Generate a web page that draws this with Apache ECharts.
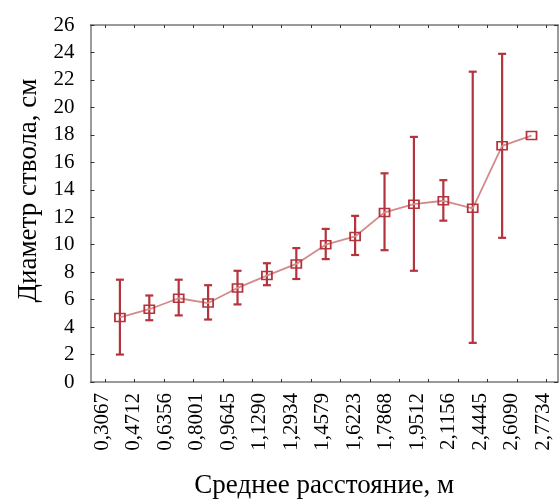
<!DOCTYPE html>
<html><head><meta charset="utf-8">
<script src="https://cdn.jsdelivr.net/npm/echarts@6/dist/echarts.min.js"></script>
<style>html,body{margin:0;padding:0;background:#fff}#c{width:559px;height:500px}</style>
</head><body><div id="c"></div>
<script>
const categories = ['0,3067','0,4712','0,6356','0,8001','0,9645','1,1290','1,2934','1,4579','1,6223','1,7868','1,9512','2,1156','2,4445','2,6090','2,7734'];
const means = [4.7, 5.3, 6.1, 5.75, 6.85, 7.75, 8.6, 10.0, 10.6, 12.35, 12.95, 13.2, 12.65, 17.2, 17.95];
const upper = [7.45, 6.3, 7.45, 7.05, 8.1, 8.65, 9.75, 11.15, 12.1, 15.2, 17.85, 14.7, 22.6, 23.9, null];
const lower = [2.0, 4.5, 4.85, 4.55, 5.65, 7.05, 7.5, 8.95, 9.25, 9.6, 8.1, 11.75, 2.85, 10.5, null];
const yTicks = [0,2,4,6,8,10,12,14,16,18,20,22,24,26];

const n = categories.length;
const tickVals = []; for (let i = 0; i <= n; i++) tickVals.push(i);
const labelVals = categories.map((c, k) => k * n / (n - 1) - 0.1);
const lineData = means.map((v, i) => [i + 0.5, v]);
const errData = means.map((v, i) => [i + 0.5, lower[i], upper[i]]).filter(d => d[1] != null);

const font = "'Liberation Serif', 'Times New Roman', serif";
const axisGray = '#7a7a7a';
const chart = echarts.init(document.getElementById('c'));
const xBase = {
  type: 'value', min: -0.5, max: 15.4,
  axisLine: {show: true, onZero: false, lineStyle: {color: axisGray, width: 1.5}},
  splitLine: {show: false},
  axisTick: {show: true, inside: true, length: 3, customValues: tickVals, lineStyle: {color: '#333'}}
};
const yBase = {
  type: 'value', min: 0, max: 26, interval: 2,
  axisLine: {show: true, onZero: false, lineStyle: {color: axisGray, width: 1.5}},
  axisTick: {show: true, inside: true, length: 4, lineStyle: {color: '#333'}},
  splitLine: {show: false}
};
chart.setOption({
  animation: false,
  grid: {left: 90.5, right: 1, top: 25, bottom: 118, containLabel: false, outerBoundsMode: 'none'},
  xAxis: [
    Object.assign({}, xBase, {
      position: 'bottom',
      name: 'Среднее расстояние, м', nameLocation: 'middle', nameGap: 90,
      nameTextStyle: {fontFamily: font, fontSize: 27, color: '#000'},
      axisLabel: {show: true, rotate: 90, margin: 11, customValues: labelVals,
        fontFamily: font, fontSize: 21, color: '#000',
        formatter: v => categories[Math.round((v + 0.1) * (n - 1) / n)]}
    }),
    Object.assign({}, xBase, {position: 'top', axisLabel: {show: false}})
  ],
  yAxis: [
    Object.assign({}, yBase, {position: 'left',
     name: 'Диаметр ствола, см', nameLocation: 'middle', nameGap: 48,
     nameTextStyle: {fontFamily: font, fontSize: 27, color: '#000', padding: [0, 0, 0, 26]},
     axisLabel: {margin: 16, fontFamily: font, fontSize: 21, color: '#000',
       formatter: v => String(yTicks[yTicks.indexOf(v)])}}),
    Object.assign({}, yBase, {position: 'right', axisLabel: {show: false}})
  ],
  series: [
    {type: 'line', data: lineData, xAxisIndex: 0, yAxisIndex: 0,
     lineStyle: {color: '#d48a8a', width: 1.8},
     symbol: 'rect', symbolSize: [10, 8],
     itemStyle: {color: 'rgba(255,255,255,0)', borderColor: '#b3343c', borderWidth: 1.6},
     z: 3},
    {type: 'custom', xAxisIndex: 0, yAxisIndex: 0, data: errData, z: 2,
     renderItem: function (params, api) {
       const x = api.value(0);
       const lo = api.coord([x, api.value(1)]);
       const hi = api.coord([x, api.value(2)]);
       const w = 4;
       const style = {stroke: '#b3343c', lineWidth: 2.2};
       return {type: 'group', children: [
         {type: 'line', shape: {x1: lo[0], y1: lo[1], x2: hi[0], y2: hi[1]}, style: style},
         {type: 'line', shape: {x1: lo[0] - w, y1: lo[1], x2: lo[0] + w, y2: lo[1]}, style: style},
         {type: 'line', shape: {x1: hi[0] - w, y1: hi[1], x2: hi[0] + w, y2: hi[1]}, style: style}
       ]};
     }}
  ]
});
</script></body></html>
